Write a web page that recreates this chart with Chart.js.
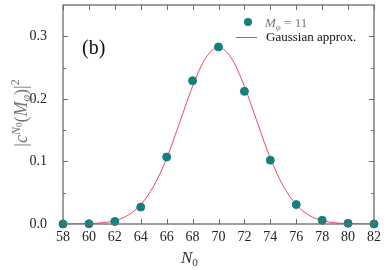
<!DOCTYPE html>
<html>
<head>
<meta charset="utf-8">
<script src="https://cdn.jsdelivr.net/npm/chart.js@4.4.0/dist/chart.umd.min.js"></script>
<style>
  html, body { margin: 0; padding: 0; background: #fff; }
  #wrap { width: 392px; height: 270px; }
</style>
</head>
<body>
<div id="wrap"><canvas id="myChart"></canvas></div>
<script>
// measured distribution, M_phi = 11
const n0 = [58, 60, 62, 64, 66, 68, 70, 72, 74, 76, 78, 80, 82];
const prob = [0.0, 0.0003, 0.004, 0.027, 0.107, 0.229, 0.283, 0.212, 0.102, 0.031, 0.006, 0.001, 0.0];

// gaussian approx. curve
const fitN0 = [58, 59, 60, 61, 62, 63, 64, 65, 66, 67, 68, 69, 70, 71, 72, 73, 74, 75, 76, 77, 78, 79, 80, 81, 82];
const fitVal = [0.00001, 0.00005, 0.0006, 0.0019, 0.0055, 0.0138, 0.0308, 0.0606, 0.105, 0.162, 0.220, 0.265, 0.282,
                0.265, 0.220, 0.162, 0.105, 0.0606, 0.0308, 0.0138, 0.0055, 0.0019, 0.0006, 0.00005, 0.00001];

const xTicks = [58, 60, 62, 64, 66, 68, 70, 72, 74, 76, 78, 80, 82];
const yTicks = [0.0, 0.1, 0.2, 0.3];

const teal = '#11807e';
const red = '#e8476d';
const axisCol = '#6b6b6b';
const serif = '"Liberation Serif", "DejaVu Serif", serif';

const framePlugin = {
  id: 'frame',
  afterDraw(chart) {
    const ctx = chart.ctx;
    const a = chart.chartArea;
    const xs = chart.scales.x, ys = chart.scales.y;
    ctx.save();
    // box
    ctx.strokeStyle = axisCol;
    ctx.lineWidth = 1.3;
    ctx.strokeRect(a.left, a.top, a.right - a.left, a.bottom - a.top);
    // inward ticks
    ctx.lineWidth = 1;
    ctx.beginPath();
    xTicks.forEach(v => {
      const px = Math.round(xs.getPixelForValue(v)) + 0.5;
      ctx.moveTo(px, a.bottom); ctx.lineTo(px, a.bottom - 5);
      ctx.moveTo(px, a.top); ctx.lineTo(px, a.top + 5);
    });
    for (let k = 1; k < 7; k++) {
      const v = k * 0.05;
      const len = (k % 2 === 0) ? 5 : 3;
      const py = Math.round(ys.getPixelForValue(v)) + 0.5;
      ctx.moveTo(a.left, py); ctx.lineTo(a.left + len, py);
      ctx.moveTo(a.right, py); ctx.lineTo(a.right - len, py);
    }
    ctx.stroke();

    // (b)
    ctx.fillStyle = '#111';
    ctx.font = '20px ' + serif;
    ctx.textBaseline = 'middle';
    ctx.textAlign = 'left';
    ctx.fillText('(b)', 82, 49);

    // legend
    ctx.fillStyle = teal;
    ctx.beginPath();
    ctx.arc(248, 22, 4, 0, Math.PI * 2);
    ctx.fill();
    ctx.fillStyle = '#777';
    ctx.textBaseline = 'alphabetic';
    ctx.font = 'italic 13px ' + serif;
    ctx.fillText('M', 265, 27);
    let w = ctx.measureText('M').width;
    ctx.font = 'italic 9px ' + serif;
    ctx.fillText('φ', 265 + w, 30);
    let w2 = ctx.measureText('φ').width;
    ctx.font = '13px ' + serif;
    ctx.fillText(' = 11', 265 + w + w2, 27);

    ctx.strokeStyle = red;
    ctx.lineWidth = 1;
    ctx.beginPath();
    ctx.moveTo(236, 37.5); ctx.lineTo(257, 37.5);
    ctx.stroke();
    ctx.fillStyle = '#111';
    ctx.font = '13px ' + serif;
    ctx.fillText('Gaussian approx.', 266, 41);

    // x title N0
    ctx.fillStyle = '#333';
    ctx.font = 'italic 17px ' + serif;
    ctx.fillText('N', 181, 263);
    w = ctx.measureText('N').width;
    ctx.font = '11px ' + serif;
    ctx.fillText('0', 181 + w, 266);

    // y title |c^{N0}(M_phi)|^2
    ctx.translate(27, 113);
    ctx.rotate(-Math.PI / 2);
    ctx.fillStyle = '#777';
    const parts = [
      ['|', '18px', 0],
      ['c', 'italic 18px', 0],
      ['N', 'italic 12px', -7],
      ['0', '9px', -5],
      ['(', '18px', 0],
      ['M', 'italic 18px', 0],
      ['φ', 'italic 12px', 3],
      [')|', '18px', 0],
      ['2', '12px', -8]
    ];
    let total = 0;
    parts.forEach(p => { ctx.font = p[1] + ' ' + serif; total += ctx.measureText(p[0]).width; });
    let x = -total / 2;
    parts.forEach(p => {
      ctx.font = p[1] + ' ' + serif;
      ctx.fillText(p[0], x, p[2]);
      x += ctx.measureText(p[0]).width;
    });
    ctx.restore();
  }
};

const ctx = document.getElementById('myChart');
new Chart(ctx, {
  type: 'scatter',
  data: {
    datasets: [{
      label: 'M_phi = 11',
      data: n0.map((v, i) => ({ x: v, y: prob[i] })),
      backgroundColor: teal,
      borderColor: teal,
      pointRadius: 4,
      pointHoverRadius: 4,
      showLine: false,
      clip: false,
      order: 0
    }, {
      label: 'Gaussian approx.',
      data: fitN0.map((v, i) => ({ x: v, y: fitVal[i] })),
      borderColor: red,
      borderWidth: 1,
      pointRadius: 0,
      showLine: true,
      cubicInterpolationMode: 'monotone',
      order: 1
    }]
  },
  options: {
    responsive: true,
    maintainAspectRatio: false,
    animation: false,
    events: [],
    layout: { padding: { left: 0, right: 18, top: 0, bottom: 0 } },
    plugins: { legend: { display: false }, tooltip: { enabled: false } },
    scales: {
      x: {
        type: 'linear',
        min: 58, max: 82,
        grid: { display: false },
        border: { display: false },
        afterBuildTicks: s => { s.ticks = xTicks.map(v => ({ value: v })); },
        afterFit: s => { s.height = 46; s.paddingLeft = 0; s.paddingRight = 0; },
        ticks: { color: '#222', font: { family: serif, size: 14 }, padding: -3, maxRotation: 0, autoSkip: false }
      },
      y: {
        min: 0, max: 0.35,
        grid: { display: false },
        border: { display: false },
        afterBuildTicks: s => { s.ticks = yTicks.map(v => ({ value: v })); },
        afterFit: s => { s.width = 63; s.paddingTop = 0; s.paddingBottom = 0; },
        ticks: { color: '#222', font: { family: serif, size: 14 }, padding: 8,
          callback: v => v.toFixed(1) }
      }
    }
  },
  plugins: [framePlugin]
});
</script>
</body>
</html>
